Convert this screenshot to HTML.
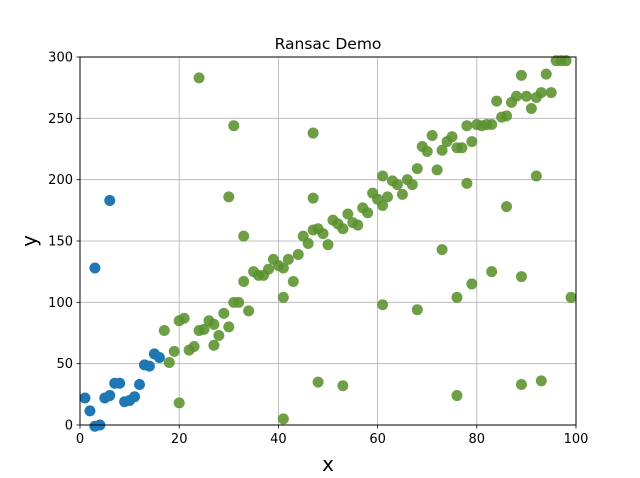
<!DOCTYPE html>
<html><head><meta charset="utf-8"><style>
body{margin:0;background:#fff;}
svg{display:block;font-family:"DejaVu Sans","Liberation Sans",sans-serif;}
</style></head><body>
<svg id="chart" width="640" height="478">
<rect width="640" height="478" fill="#fff"/>
<text x="328" y="49" text-anchor="middle" font-size="15.5">Ransac Demo</text>
<g id="grid"></g>
<g id="ticks"></g>
<g id="pts"></g>
<rect x="80" y="57" width="496" height="368" fill="none" stroke="#000" stroke-width="1"/>
<text x="328" y="471" text-anchor="middle" font-size="20">x</text>
<text x="0" y="0" transform="translate(36,241) rotate(-90)" text-anchor="middle" font-size="20">y</text>
</svg>
<script>
const xTicks=[0,20,40,60,80,100];
const yTicks=[0,50,100,150,200,250,300];
const inlierBlueX=[1,2,3,4,5,6,7,8,9,10,11,12,13,14,15,16,3,6];
const inlierBlueY=[22,11.5,-1,0,22,24,34,34,19,20,23,33,49,48,58,55,128,183];
const greenX=[17,18,19,20,20,21,22,23,24,24,25,26,27,27,28,29,30,30,31,31,32,33,33,34,35,36,37,38,39,40,41,41,41,42,43,44,45,46,47,47,47,48,48,49,50,51,52,53,53,54,55,56,57,58,59,60,61,61,61,62,63,64,65,66,67,68,68,69,70,71,72,73,73,74,75,76,76,76,77,78,78,79,79,80,81,82,83,83,84,85,86,86,87,88,89,89,89,90,91,92,92,93,93,94,95,96,97,98,99];
const greenY=[77,51,60,85,18,87,61,64,77,283,78,85,82,65,73,91,80,186,100,244,100,117,154,93,125,122,122,127,135,130,104,128,5,135,117,139,154,148,159,185,238,35,160,156,147,167,164,160,32,172,165,163,177,173,189,184,203,179,98,186,199,196,188,200,196,209,94,227,223,236,208,224,143,231,235,226,104,24,226,244,197,231,115,245,244,245,245,125,264,251,252,178,263,268,285,121,33,268,258,267,203,271,36,286,271,297,297,297,104];
const NS="http://www.w3.org/2000/svg";
const L=80,R=576,T=57,B=425;
function sx(v){return L+(v-0)/(100-0)*(R-L);}
function sy(v){return B-(v-0)/(300-0)*(B-T);}
function mk(t,a){const e=document.createElementNS(NS,t);for(const k in a)e.setAttribute(k,a[k]);return e;}
const grid=document.getElementById('grid'),ticks=document.getElementById('ticks'),pts=document.getElementById('pts');
xTicks.forEach(v=>{
 const g=mk('line',{x1:sx(v),x2:sx(v),y1:T,y2:B,stroke:'#b0b0b0','stroke-width':0.8});
 
 
 grid.appendChild(g);
 const t=mk('line',{x1:sx(v),x2:sx(v),y1:B,y2:B+3.5,stroke:'#000','stroke-width':0.8});
 
 
 ticks.appendChild(t);
 const l=mk('text',{x:sx(v),y:B+18,'text-anchor':'middle','font-size':13});
 l.textContent=v;
 
 
 ticks.appendChild(l);
});
yTicks.forEach(v=>{
 const g=mk('line',{x1:L,x2:R,y1:sy(v),y2:sy(v),stroke:'#b0b0b0','stroke-width':0.8});
 
 
 grid.appendChild(g);
 const t=mk('line',{x1:L-3.5,x2:L,y1:sy(v),y2:sy(v),stroke:'#000','stroke-width':0.8});
 
 
 ticks.appendChild(t);
 const l=mk('text',{x:L-7,y:sy(v)+4.5,'text-anchor':'end','font-size':13});
 l.textContent=v;
 
 
 ticks.appendChild(l);
});
inlierBlueX.forEach((x,i)=>{
 const c=mk('circle',{cx:sx(x),cy:sy(inlierBlueY[i]),r:5.5,fill:'#1f77b4'});
 
 
 pts.appendChild(c);
});
greenX.forEach((x,i)=>{
 const c=mk('circle',{cx:sx(x),cy:sy(greenY[i]),r:5.5,fill:'#5a922e','fill-opacity':0.88});
 
 
 pts.appendChild(c);
});
</script>
</body></html>
